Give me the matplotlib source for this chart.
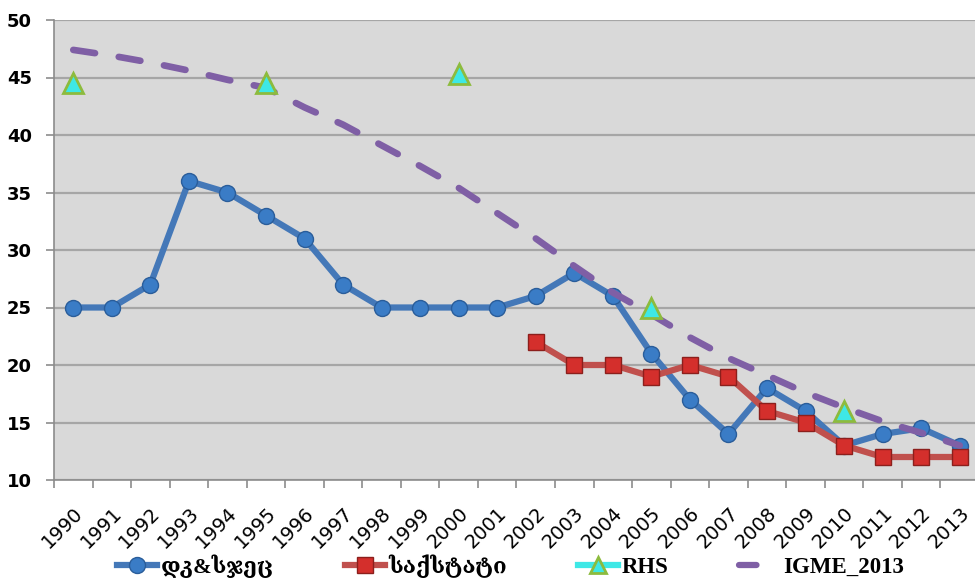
import matplotlib

matplotlib.use("Agg")
import matplotlib.pyplot as plt
from matplotlib.lines import Line2D

years = [str(y) for y in range(1990, 2014)]

# series values
dhs_values = [25, 25, 27, 36, 35, 33, 31, 27, 25, 25, 25, 25,
              26, 28, 26, 21, 17, 14, 18, 16, 13, 14, 14.5, 13]
geostat_years = years[12:]
geostat_values = [22, 20, 20, 19, 20, 19, 16, 15, 13, 12, 12, 12]
rhs_years = ["1990", "1995", "2000", "2005", "2010"]
rhs_values = [44.5, 44.5, 45.3, 25, 16]
igme_values = [47.4, 46.9, 46.3, 45.6, 44.8, 44.1, 42.4, 40.9, 39.1, 37.3,
               35.4, 33.2, 31.0, 28.6, 26.3, 24.4, 22.4, 20.6, 19.1, 17.6,
               16.3, 15.1, 14.1, 13.0]

labels = ["დკ&სჯეც", "საქსტატი", "RHS", "IGME_2013"]

idx = {y: i for i, y in enumerate(years)}

fig = plt.figure(figsize=(9.75, 5.83), dpi=100)
ax = fig.add_axes([54 / 975, 103 / 583, 925 / 975, 460 / 583])
ax.set_facecolor("#d9d9d9")

ax.plot(range(len(years)), dhs_values, color="#4478b8", lw=4.5, marker="o",
        ms=11.5, mfc="#3a7cc6", mec="#2a5d9a", mew=1.0, zorder=3)
ax.plot([idx[y] for y in geostat_years], geostat_values, color="#c0504d",
        lw=4.5, marker="s", ms=12, mfc="#d42f2c", mec="#8c1f1c", mew=1.0,
        zorder=4)
ax.plot(range(len(years)), igme_values, color="#7f5fa5", lw=4.8,
        linestyle=(0, (3.3, 3.6)), dash_capstyle="round", zorder=5)
ax.plot([idx[y] for y in rhs_years], rhs_values, linestyle="none",
        marker="^", ms=15, mfc="#3ee8e6", mec="#8dbb3e", mew=2.0, zorder=6)

ax.set_xlim(-0.5, len(years) - 0.5)
ax.set_ylim(10, 50)
ax.set_yticks(range(10, 51, 5))
ax.yaxis.grid(True, color="#a6a6a6", lw=1.6)
ax.set_axisbelow(True)

ax.set_xticks(range(len(years)))
ax.set_xticklabels(years, rotation=45, ha="right", va="top",
                   rotation_mode="anchor", fontsize=14)
ax.set_xticks([i - 0.5 for i in range(len(years) + 1)], minor=True)
ax.tick_params(axis="x", which="major", length=0, pad=17)
ax.tick_params(axis="x", which="minor", length=6, color="#8c8c8c", width=1.2)
ax.tick_params(axis="y", length=6, color="#8c8c8c", width=1.2, pad=10,
               labelsize=13)
for t in ax.get_yticklabels():
    t.set_fontweight("bold")

for side in ("top", "right"):
    ax.spines[side].set_visible(False)
for side in ("left", "bottom"):
    ax.spines[side].set_color("#8c8c8c")
    ax.spines[side].set_linewidth(1.2)

handles = [
    Line2D([], [], color="#4478b8", lw=4.5, marker="o", ms=11.5,
           mfc="#3a7cc6", mec="#2a5d9a"),
    Line2D([], [], color="#c0504d", lw=4.5, marker="s", ms=12,
           mfc="#d42f2c", mec="#8c1f1c"),
    Line2D([], [], color="#3ee8e6", lw=4.5, marker="^", ms=12,
           mfc="#3ee8e6", mec="#8dbb3e", mew=2.0),
    Line2D([], [], color="#7f5fa5", lw=4.5, linestyle=(0, (2.8, 10)),
           dash_capstyle="round"),
]
leg = fig.legend(handles, labels, loc="center left",
                 bbox_to_anchor=(117 / 975, 17 / 583), ncol=4, frameon=False,
                 borderpad=0, borderaxespad=0, handlelength=1.75,
                 handletextpad=0.15, columnspacing=3.1,
                 prop={"family": ["Liberation Serif", "DejaVu Serif"],
                       "weight": "bold", "size": 16.5})
for t in leg.get_texts()[:2]:
    t.set_fontsize(16)

fig.savefig("out.png", dpi=100)
